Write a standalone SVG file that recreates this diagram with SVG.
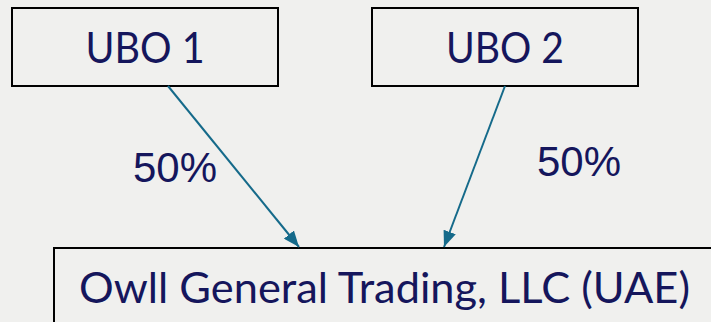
<svg xmlns="http://www.w3.org/2000/svg" width="711" height="322" viewBox="0 0 711 322">
  <defs>
    <style>
      .box { fill: #f0f0ee; stroke: #000; stroke-width: 2; }
      .name { font-family: Lato, "Open Sans", "Noto Sans", sans-serif; font-size: 43px; fill: #15165c; }
      .pct { font-family: "Liberation Sans", Arial, sans-serif; font-size: 42px; fill: #15165c; }
      .link { stroke: #156a8a; stroke-width: 2; fill: none; }
    </style>
    <marker id="arrow" viewBox="0 0 16 13" refX="16" refY="6.5" markerWidth="16" markerHeight="13" markerUnits="userSpaceOnUse" orient="auto">
      <path d="M0,0 L16,6.5 L0,13 z" fill="#156a8a"/>
    </marker>
  </defs>
  <rect width="711" height="322" fill="#f0f0ee"/>

  <g id="ubo1">
    <rect class="box" x="12" y="8" width="266" height="78"/>
    <text class="name" x="145" y="63" text-anchor="middle" textLength="119" lengthAdjust="spacingAndGlyphs">UBO 1</text>
  </g>

  <g id="ubo2">
    <rect class="box" x="372" y="8" width="266" height="78"/>
    <text class="name" x="505" y="63" text-anchor="middle" textLength="118" lengthAdjust="spacingAndGlyphs">UBO 2</text>
  </g>

  <g id="company">
    <rect class="box" x="54" y="248" width="680" height="90"/>
    <text class="name" x="79" y="303" textLength="611" lengthAdjust="spacingAndGlyphs">Owll General Trading, LLC (UAE)</text>
  </g>

  <g id="connectors">
    <line class="link" x1="168" y1="86" x2="299" y2="247" marker-end="url(#arrow)"/>
    <line class="link" x1="505" y1="86" x2="444" y2="247" marker-end="url(#arrow)"/>
    <text class="pct" x="133" y="181.5">50%</text>
    <text class="pct" x="537" y="175.5">50%</text>
  </g>
</svg>
